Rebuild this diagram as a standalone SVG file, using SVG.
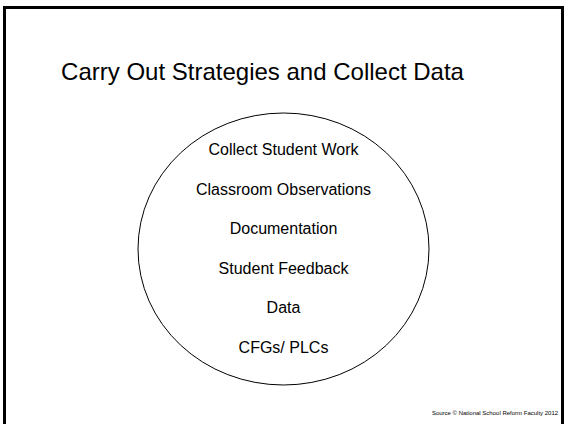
<svg xmlns="http://www.w3.org/2000/svg" width="565" height="424" viewBox="0 0 565 424">
<style>
.t{font-family:"Liberation Sans",Arial,sans-serif;fill:#000;text-anchor:middle}
.item{font-size:16px}
</style>
<rect width="565" height="424" fill="#fff"/>
<rect id="frame" x="4.5" y="7.5" width="558" height="440" fill="none" stroke="#000" stroke-width="3"/>
<g id="title"><text class="t" x="262.5" y="80" font-size="24">Carry Out Strategies and Collect Data</text></g>
<g id="circle">
<ellipse cx="283.5" cy="249" rx="145.5" ry="136" fill="none" stroke="#000" stroke-width="1"/>
<text class="t item" x="283.5" y="155">Collect Student Work</text>
<text class="t item" x="283.5" y="195">Classroom Observations</text>
<text class="t item" x="283.5" y="234">Documentation</text>
<text class="t item" x="283.5" y="274">Student Feedback</text>
<text class="t item" x="283.5" y="313">Data</text>
<text class="t item" x="283.5" y="353">CFGs/ PLCs</text>
</g>
<g id="footer"><text class="t" x="495" y="415" font-size="6">Source © National School Reform Faculty 2012</text></g>
</svg>
